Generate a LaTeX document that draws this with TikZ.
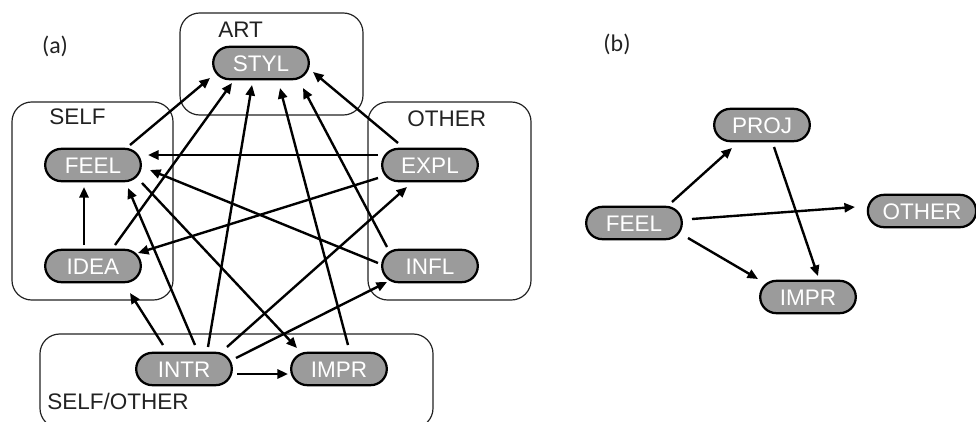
\documentclass[tikz,border=0pt]{standalone}
\usepackage{fontspec}
\setmainfont{Liberation Sans}
\newfontfamily\panelfont{Carlito}
\usepackage{tikz}
\usetikzlibrary{arrows.meta, calc}
\definecolor{PillGray}{HTML}{9B9B9B}
\definecolor{BoxBlack}{HTML}{222222}

\begin{document}
\begin{tikzpicture}[x=0.025cm, y=-0.025cm,
    pill/.style={rectangle, rounded corners=11.5pt, draw=black, line width=1.6pt, fill=PillGray, text=white,
      font=\fontsize{16}{19}\selectfont, minimum width=68pt, minimum height=23pt,
      inner xsep=10.5pt, inner ysep=0pt, text height=11.4pt, text depth=0pt},
    group/.style={draw=BoxBlack, line width=0.85pt, rounded corners=14pt},
    grouplabel/.style={anchor=base west, inner sep=0pt, text=BoxBlack, font=\fontsize{16}{19}\selectfont},
    link/.style={-{Triangle[length=7.5pt, width=6.5pt]}, line width=1.7pt}]

        \useasboundingbox (0,0) rectangle (976,422);
        \clip (0,0) rectangle (976,422);

        % Panel labels
        \node[font=\panelfont\fontsize{17}{20}\selectfont, text=BoxBlack] (panelA) at (55,46) {(a)};
        \node[font=\panelfont\fontsize{17}{20}\selectfont, text=BoxBlack] (panelB) at (617,44) {(b)};

        % Groups
        \draw[group] (180,13) rectangle (363,115);
        \draw[group] (12,102) rectangle (173,300);
        \draw[group] (368,102) rectangle (531,300);
        \draw[group] (40,334) rectangle (433,428);
        \node[grouplabel] (artlabel) at (218,37) {ART};
        \node[grouplabel] (selflabel) at (49,124) {SELF};
        \node[grouplabel] (otherlabel) at (407,126) {OTHER};
        \node[grouplabel] (selfotherlabel) at (47,409) {SELF/OTHER};

        % Codes (a)
        \node[pill] (STYL) at (261,63) {STYL};
        \node[pill] (FEEL) at (93,165) {FEEL};
        \node[pill] (EXPL) at (430,165) {EXPL};
        \node[pill] (IDEA) at (93,266) {IDEA};
        \node[pill] (INFL) at (430,266) {INFL};
        \node[pill] (INTR) at (184,369) {INTR};
        \node[pill] (IMPR) at (339,369) {IMPR};

        % Links (a)
        \draw[link] ($(FEEL)+(37,-20)$) -- ($(STYL)+(-51,15)$);
        \draw[link] ($(IDEA)+(22,-21)$) -- ($(STYL)+(-29,20)$);
        \draw[link] ($(INTR)+(24,-22)$) -- ($(STYL)+(-9,22)$);
        \draw[link] ($(IMPR)+(9,-24)$) -- ($(STYL)+(19,25)$);
        \draw[link] ($(INFL)+(-43,-19)$) -- ($(STYL)+(42,25)$);
        \draw[link] ($(EXPL)+(-32,-22)$) -- ($(STYL)+(52,9)$);
        \draw[link] ($(EXPL)+(-52,-10)$) -- ($(FEEL)+(55,-10)$);
        \draw[link] ($(INFL)+(-52,-3)$) -- ($(FEEL)+(57,5)$);
        \draw[link] ($(EXPL)+(-52,13)$) -- ($(IDEA)+(45,-13)$);
        \draw[link] ($(IDEA)+(-9,-21)$) -- ($(FEEL)+(-9,22)$);
        \draw[link] ($(INTR)+(11,-24)$) -- ($(FEEL)+(35,23)$);
        \draw[link] ($(INTR)+(-21,-24)$) -- ($(IDEA)+(37,27)$);
        \draw[link] ($(FEEL)+(49,18)$) -- ($(IMPR)+(-42,-21)$);
        \draw[link] ($(INTR)+(43,-22)$) -- ($(EXPL)+(-23,22)$);
        \draw[link] ($(INTR)+(52,-11)$) -- ($(INFL)+(-43,16)$);
        \draw[link] ($(INTR)+(53,5)$) -- ($(IMPR)+(-51,5)$);

        % Codes (b)
        \node[pill] (PROJb) at (762,125) {PROJ};
        \node[pill] (FEELb) at (634,223) {FEEL};
        \node[pill] (OTHERb) at (922,211) {OTHER};
        \node[pill] (IMPRb) at (808,297) {IMPR};

        % Links (b)
        \draw[link] ($(FEELb)+(38,-21)$) -- ($(PROJb)+(-30,23)$);
        \draw[link] ($(FEELb)+(58,-4)$) -- ($(OTHERb)+(-67,-4)$);
        \draw[link] ($(FEELb)+(54,15)$) -- ($(IMPRb)+(-50,-18)$);
        \draw[link] ($(PROJb)+(12,22)$) -- ($(IMPRb)+(10,-21)$);
    \end{tikzpicture}
\end{document}
